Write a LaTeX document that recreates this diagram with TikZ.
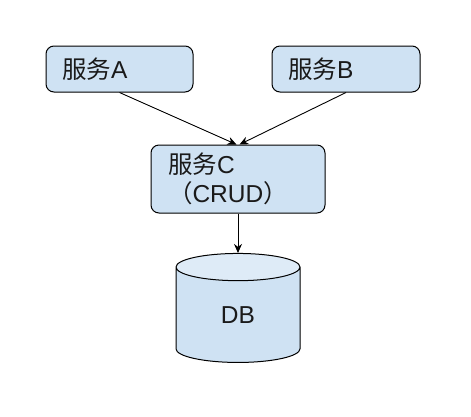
\documentclass[tikz,border=0pt]{standalone}
\usepackage{fontspec}
\setmainfont{Liberation Sans}
\newfontfamily\cjk{Noto Sans CJK SC}
\usetikzlibrary{arrows.meta, positioning, shapes.geometric}
\definecolor{boxblue}{HTML}{CFE2F3}
\definecolor{topblue}{HTML}{DEEBF7}
\definecolor{txt}{HTML}{1A1A1A}

\begin{document}
\begin{tikzpicture}[x=1pt, y=-1pt,
  every node/.style={font=\fontsize{24.5}{29}\selectfont, text=txt},
  svc/.style={draw, line width=1pt, fill=boxblue, rounded corners=8pt,
    align=left, inner xsep=16pt, inner ysep=0pt},
  >={Stealth[length=9pt, width=8pt]}, line width=0.9pt
]
\useasboundingbox[fill=white] (0,0) rectangle (471,416);
% services
\node[svc, minimum width=147pt, minimum height=46pt, text width=115pt] (svca) at (119.5,69) {{\cjk 服务}A};
\node[svc, minimum width=148pt, minimum height=46pt, text width=116pt] (svcb) at (346,69) {{\cjk 服务}B};
\node[svc, minimum width=174pt, minimum height=68pt, text width=140pt, inner xsep=17pt] (svcc) at (238,179)
  {{\cjk 服务}C\\{\cjk （}CRUD{\cjk ）}};
% database
\node[cylinder, shape border rotate=90, draw, line width=1pt, aspect=0.8,
  cylinder uses custom fill, cylinder body fill=boxblue, cylinder end fill=topblue,
  minimum width=124pt, minimum height=109pt, inner sep=0pt] (db) at (238,315) {DB};
% arrows
\draw[->] (svca.south) -- ([xshift=-1.5pt]svcc.north);
\draw[->] (svcb.south) -- ([xshift=1.5pt]svcc.north);
\draw[->] (svcc.south) -- (db.top);
\end{tikzpicture}
\end{document}
